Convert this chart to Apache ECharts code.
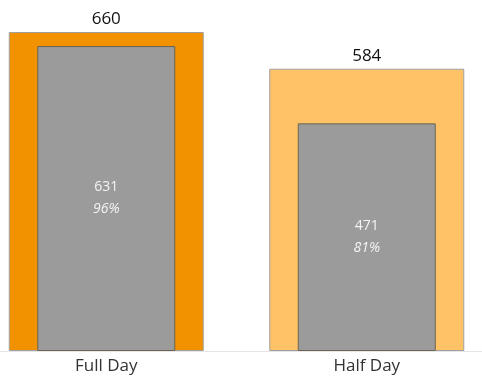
<!DOCTYPE html>
<html>
<head>
<meta charset="utf-8">
<script src="https://cdn.jsdelivr.net/npm/echarts@6/dist/echarts.min.js"></script>
<style>
  html, body { margin: 0; padding: 0; background: #fff; overflow: hidden; }
  /* 画布比窗口略宽，使两组柱子的中心位置与原图一致 */
  #chart { width: 521px; height: 379px; margin-left: -24px; }
</style>
</head>
<body>
<div id="chart"></div>
<script>
// data
const categories = ['Full Day', 'Half Day'];
const totalValues = [660, 584];
const usedValues = [631, 471];
const usedPercents = ['96%', '81%'];

const outerColors = ['#F39200', '#FFC266'];

const myChart = echarts.init(document.getElementById('chart'));

const options = {
    animation: false,
    grid: {
        top: 32,
        bottom: 28,
        left: 0,
        right: 0
    },
    xAxis: [
        {
            type: 'category',
            data: categories,
            axisTick: { show: false },
            axisLine: { lineStyle: { color: '#e6e6e6', width: 1 } },
            axisLabel: {
                color: '#333',
                fontSize: 17,
                fontFamily: 'Open Sans',
                margin: 7
            }
        },
        {
            // 内层灰色柱子用的隐藏轴，保证居中叠放
            type: 'category',
            data: categories,
            show: false
        }
    ],
    yAxis: {
        type: 'value',
        min: 0,
        max: 660,
        show: false,
        splitLine: { show: false }
    },
    series: [
        {
            name: 'Total',
            type: 'bar',
            xAxisIndex: 0,
            barWidth: 195,
            data: totalValues.map((v, i) => ({
                value: v,
                itemStyle: { color: outerColors[i] }
            })),
            itemStyle: { borderColor: '#a0a0a0', borderWidth: 1 },
            label: {
                show: true,
                position: 'top',
                distance: 4,
                color: '#111',
                fontSize: 17,
                fontFamily: 'Open Sans'
            }
        },
        {
            name: 'Used',
            type: 'bar',
            xAxisIndex: 1,
            barWidth: 138,
            data: usedValues,
            itemStyle: { color: '#9b9b9b', borderColor: '#6a6450', borderWidth: 1 },
            label: {
                show: true,
                position: 'inside',
                formatter: p => '{v|' + p.value + '}\n{p|' + usedPercents[p.dataIndex] + '}',
                rich: {
                    v: { color: '#f4f4f4', fontSize: 14, fontFamily: 'Open Sans', lineHeight: 22 },
                    p: { color: '#f4f4f4', fontSize: 14, fontStyle: 'italic', fontFamily: 'Open Sans', lineHeight: 22 }
                }
            }
        }
    ]
};

myChart.setOption(options);
</script>
</body>
</html>
